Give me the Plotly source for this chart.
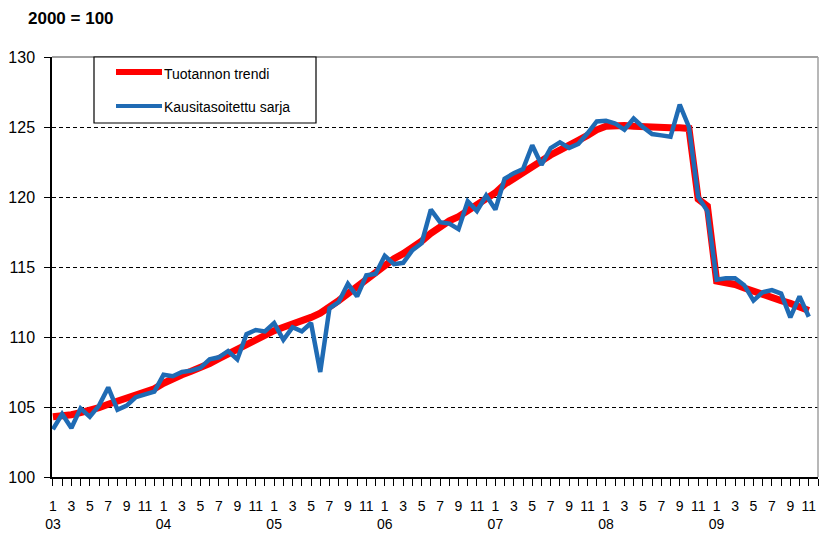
import plotly.graph_objects as go

# Months: Jan 2003 .. Nov 2009 (index 0..82)
years = ["03", "04", "05", "06", "07", "08", "09"]
month_labels = ["1", "3", "5", "7", "9", "11"]

trend = [
    104.3, 104.35, 104.45, 104.6, 104.75, 104.95, 105.2, 105.4, 105.6, 105.8, 106.0, 106.3,
    106.7, 107.05, 107.3, 107.55, 107.8, 108.1, 108.45, 108.8, 109.15, 109.5, 109.85, 110.15,
    110.45, 110.7, 110.9, 111.15, 111.4, 111.7, 112.1, 112.6, 113.1, 113.6, 114.1, 114.7,
    115.2, 115.6, 115.95, 116.35, 116.85, 117.4, 117.9, 118.3, 118.6, 119.0, 119.4, 119.9,
    120.3, 120.9, 121.35, 121.75, 122.2, 122.65, 123.0, 123.35, 123.75, 124.05, 124.4, 124.8,
    125.05, 125.1, 125.1, 125.05, 125.0, 124.95, 124.95, 124.95, 124.95, 124.9, 119.85, 119.35,
    114.0, 113.9, 113.75, 113.5, 113.25, 113.05, 112.85, 112.6, 112.4, 112.15, 111.9,
]

sa_series = [
    103.4, 104.5, 103.5, 104.9, 104.3, 105.1, 106.4, 104.8, 105.1, 105.7, 105.9, 106.1,
    107.3, 107.2, 107.5, 107.6, 107.8, 108.4, 108.55, 109.0, 108.4, 110.2, 110.5, 110.4,
    111.0, 109.8, 110.7, 110.4, 111.0, 107.5, 112.05, 112.5, 113.8, 112.9, 114.4, 114.5,
    115.8, 115.2, 115.3, 116.2, 116.7, 119.1, 118.2, 118.1, 117.7, 119.7, 119.0, 120.1,
    119.1, 121.3, 121.7, 122.0, 123.7, 122.3, 123.5, 123.9, 123.5, 123.8, 124.55, 125.4,
    125.45, 125.25, 124.8, 125.6, 125.0, 124.5, 124.4, 124.3, 126.6, 125.0, 120.0, 119.0,
    114.1, 114.2, 114.2, 113.7, 112.6, 113.2, 113.35, 113.1, 111.4, 112.9, 111.45,
]

x_idx = list(range(len(trend)))

tickvals = []
ticktext = []
for yi, yr in enumerate(years):
    for mi, ml in enumerate(month_labels):
        idx = yi * 12 + mi * 2
        if idx > 82:
            continue
        tickvals.append(idx)
        ticktext.append(f"{ml}<br>{yr}" if ml == "1" else ml)

RED = "#ff0000"
BLUE = "#1f6bb4"

fig = go.Figure()
fig.add_trace(go.Scatter(x=x_idx, y=trend, mode="lines", name="Tuotannon trendi",
                         line=dict(color=RED, width=7), showlegend=False))
fig.add_trace(go.Scatter(x=x_idx, y=sa_series, mode="lines", name="Kausitasoitettu sarja",
                         line=dict(color=BLUE, width=4.5), showlegend=False))

fig.update_layout(
    width=819, height=533,
    margin=dict(l=52, r=1, t=57, b=56),
    paper_bgcolor="white", plot_bgcolor="white",
    font=dict(family="Liberation Sans, Arial, sans-serif", color="black"),
    xaxis=dict(
        range=[-0.1, 83], tickmode="array", tickvals=tickvals, ticktext=ticktext,
        ticks="outside", ticklen=7, tickwidth=1.2, tickcolor="black",
        minor=dict(dtick=1, tick0=0, ticks="outside", ticklen=7, tickwidth=1.2, tickcolor="black", showgrid=False),
        showline=True, linecolor="black", linewidth=1.5, showgrid=False, zeroline=False,
        tickfont=dict(family="Liberation Sans, Arial", size=14),
        ticklabelstandoff=8, tickangle=0, automargin=False,
    ),
    yaxis=dict(
        range=[100, 130], tickvals=[100, 105, 110, 115, 120, 125, 130],
        ticks="outside", ticklen=6, tickwidth=1.2, tickcolor="black",
        showline=True, linecolor="black", linewidth=1.5,
        showgrid=True, gridcolor="black", gridwidth=1.4, griddash="4px,3px",
        zeroline=False, tickfont=dict(size=16), ticklabelstandoff=6, automargin=False,
    ),
    shapes=[
        dict(type="line", xref="paper", yref="paper", x0=0, x1=1, y0=1, y1=1,
             line=dict(color="#808080", width=1.5), layer="above"),
        dict(type="line", xref="paper", yref="paper", x0=1, x1=1, y0=0, y1=1,
             line=dict(color="#a0a0a0", width=1.5), layer="above"),
        # legend box
        dict(type="rect", xref="paper", yref="paper",
             x0=(94 - 52) / 766, x1=(316 - 52) / 766, y0=(477 - 123) / 420, y1=1,
             line=dict(color="black", width=1.2), fillcolor="white", layer="above"),
        dict(type="line", xref="paper", yref="paper",
             x0=(116 - 52) / 766, x1=(162 - 52) / 766, y0=(477 - 72) / 420, y1=(477 - 72) / 420,
             line=dict(color=RED, width=6), layer="above"),
        dict(type="line", xref="paper", yref="paper",
             x0=(116 - 52) / 766, x1=(162 - 52) / 766, y0=(477 - 106) / 420, y1=(477 - 106) / 420,
             line=dict(color=BLUE, width=4), layer="above"),
    ],
    annotations=[
        dict(text="<b>2000 = 100</b>", xref="paper", yref="paper",
             x=(26 - 52) / 766, y=(477 - 18) / 420, xanchor="left", yanchor="middle",
             showarrow=False, font=dict(size=17)),
        dict(text="Tuotannon trendi", xref="paper", yref="paper",
             x=(162 - 52) / 766, y=(477 - 74) / 420, xanchor="left", yanchor="middle",
             showarrow=False, font=dict(size=14)),
        dict(text="Kausitasoitettu sarja", xref="paper", yref="paper",
             x=(162 - 52) / 766, y=(477 - 107) / 420, xanchor="left", yanchor="middle",
             showarrow=False, font=dict(size=14)),
    ],
)

fig.write_html(
    "out.html",
    config={"displayModeBar": False},
    post_script="document.body.style.margin='0';document.documentElement.style.overflow='hidden';",
)
